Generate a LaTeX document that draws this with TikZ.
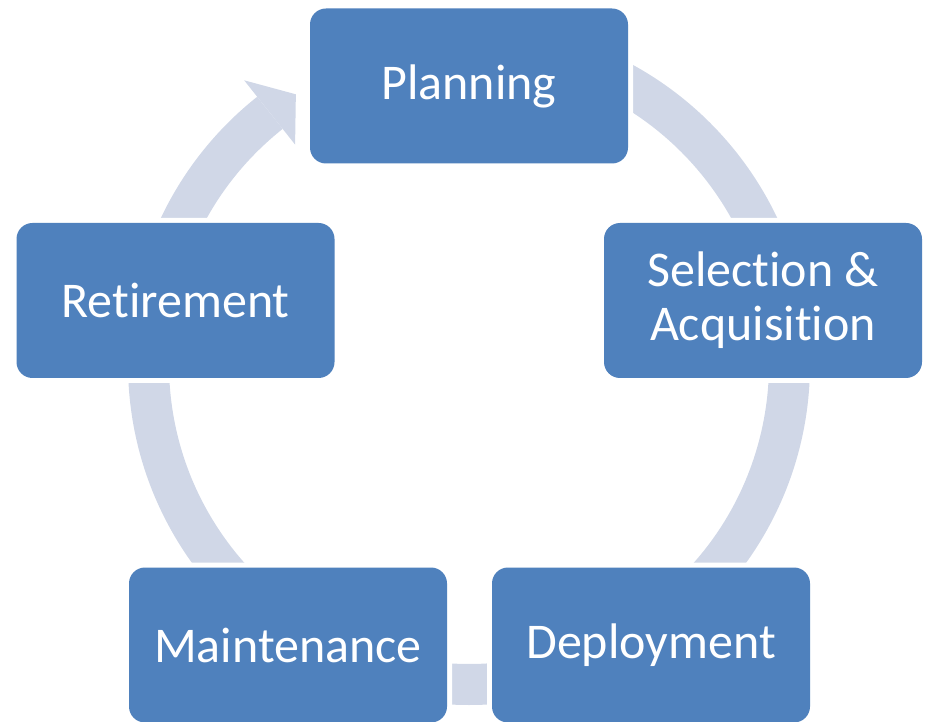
\documentclass[tikz,border=0pt]{standalone}
\usepackage{fontspec}
\setmainfont{Carlito}[Ligatures={NoCommon}]
\usetikzlibrary{calc}
\definecolor{boxblue}{HTML}{4F81BD}
\definecolor{ringgray}{HTML}{D0D7E7}
\tikzset{
  stagebox/.style={rounded corners=16pt, fill=boxblue, text=white,
    minimum width=318pt, minimum height=155pt, inner sep=0pt, align=center,
    font=\fontsize{50}{54}\selectfont,
    preaction={draw=white, line width=10pt}},
  ringfill/.style={fill=ringgray}
}
\begin{document}
\begin{tikzpicture}[x=1pt,y=1pt]
\useasboundingbox (0,0) rectangle (926,721);
\coordinate (C) at (469,357);
% cycle ring
\fill[ringfill] ($(C)+(90:341)$) arc[start angle=90,end angle=-231.6,radius=341]
  -- ($(C)+(-231.6:300)$) arc[start angle=-231.6,end angle=90,radius=300] -- cycle;
% arrow head pointing into Planning
\fill[ringfill] ($(C)+(128.4:362)$) -- ($(C)+(122.7:320.5)$) -- ($(C)+(128.4:280)$) -- cycle;
% stages
\node[stagebox] (plan) at (469,635) {Planning};
\node[stagebox] (sel) at (763,420.5) {Selection \&\\Acquisition};
\node[stagebox] (dep) at (651,76) {Deployment};
\node[stagebox] (mai) at (288,76) {Maintenance};
\node[stagebox] (ret) at (175.5,420.5) {Retirement};
\end{tikzpicture}
\end{document}
